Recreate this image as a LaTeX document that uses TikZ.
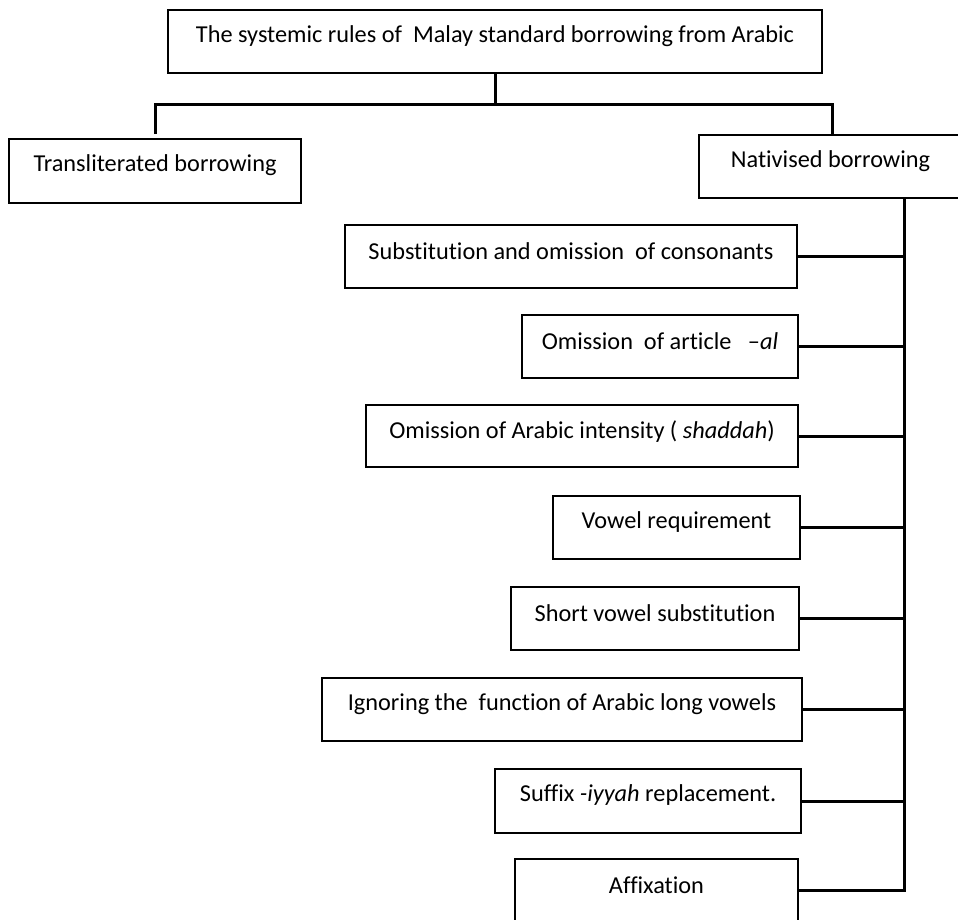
\documentclass[tikz,border=0pt]{standalone}
\usepackage{fontspec}
\setmainfont{Carlito}[Ligatures={NoCommon}]
\begin{document}
\begin{tikzpicture}[x=1pt,y=-1pt,
  box/.style={draw=black, line width=1.6pt, rectangle, inner sep=0pt, fill=white},
  conn/.style={draw=black, line width=3pt},
  lbl/.style={anchor=center, yshift=-27pt, font=\fontsize{24.3}{29}\selectfont, inner sep=0pt}]
\useasboundingbox[fill=white] (0,0) rectangle (958,920);
% boxes
\node[box, minimum width=654pt, minimum height=63pt,
  label={[lbl]north:{The systemic rules of~ Malay standard borrowing from Arabic}}] (top) at (495,41.5) {};
\node[box, minimum width=292pt, minimum height=64pt,
  label={[lbl]north:{Transliterated borrowing}}] (trans) at (155,171) {};
\node[box, minimum width=263pt, minimum height=63pt,
  label={[lbl]north:{Nativised borrowing}}] (nat) at (830.5,166.5) {};
\node[box, minimum width=452pt, minimum height=63pt,
  label={[lbl]north:{Substitution and omission~ of consonants}}] (sub) at (571,256.5) {};
\node[box, minimum width=276pt, minimum height=63pt,
  label={[lbl]north:{Omission~ of article~~ –\textit{al}}}] (art) at (660,346.5) {};
\node[box, minimum width=432pt, minimum height=62pt,
  label={[lbl]north:{Omission of Arabic intensity ( \textit{shaddah})}}] (sha) at (582,436) {};
\node[box, minimum width=247pt, minimum height=63pt,
  label={[lbl]north:{Vowel requirement}}] (vow) at (676.5,527.5) {};
\node[box, minimum width=288pt, minimum height=63pt,
  label={[lbl]north:{Short vowel substitution}}] (sho) at (655,618.5) {};
\node[box, minimum width=480pt, minimum height=63pt,
  label={[lbl]north:{Ignoring the~ function of Arabic long vowels}}] (ign) at (562,709.5) {};
\node[box, minimum width=306pt, minimum height=64pt,
  label={[lbl]north:{Suffix \textit{-iyyah} replacement.}}] (suf) at (648,801) {};
\node[box, minimum width=283pt, minimum height=63pt,
  label={[lbl]north:{Affixation}}] (aff) at (656.5,890.5) {};
% connectors
\coordinate (bar) at (495,105);
\coordinate (tx) at (904,198);
\draw[conn] (top.south) -- (bar);
\draw[conn] ([yshift=4pt]trans.north) |- (bar) -| ([xshift=1.5pt]nat.north);
\draw[conn] (tx) -- (tx |- aff.east) -- (aff.east);
\foreach \n in {sub,art,sha,vow,sho,ign,suf}{
  \draw[conn] (\n.east) -- (\n.east -| tx);
}
\end{tikzpicture}
\end{document}
